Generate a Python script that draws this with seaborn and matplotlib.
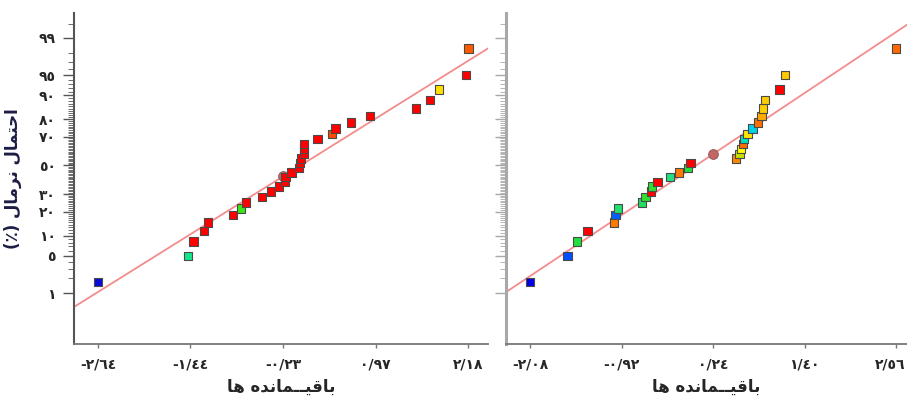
import numpy as np
import pandas as pd
import matplotlib
matplotlib.use("Agg")
import matplotlib.pyplot as plt
import matplotlib.transforms as mtransforms
import seaborn as sns
from statistics import NormalDist

# residuals (sorted)
left_resid = [-2.64, -1.473, -1.399, -1.264, -1.213, -0.883, -0.783, -0.714, -0.506, -0.389,
              -0.285, -0.210, -0.202, -0.124, -0.024, -0.015, -0.002, 0.041, 0.041, 0.041,
              0.215, 0.401, 0.449, 0.652, 0.899, 1.498, 1.676, 1.793, 2.145, 2.18]
right_resid = [-2.08, -1.607, -1.489, -1.354, -1.021, -1.000, -0.967, -0.663, -0.616, -0.549,
               -0.531, -0.464, -0.303, -0.195, -0.081, -0.047, 0.527, 0.577, 0.595, 0.620,
               0.628, 0.678, 0.742, 0.810, 0.856, 0.877, 0.902, 1.083, 1.155, 2.56]

# fitted line (mean, sd)
left_line = (-0.006, 1.145)
right_line = (0.023, 1.045)

left_xticks = [-2.64, -1.44, -0.23, 0.97, 2.18]
right_xticks = [-2.08, -0.92, 0.24, 1.40, 2.56]
prob_ticks = [1, 5, 10, 20, 30, 50, 70, 80, 90, 95, 99]

# point colours
R = "#ff0000"
left_colors = ["#0a0ad8", "#14e68c", R, R, R, R, "#3ce614", R, R, R,
               R, R, R, R, R, R, R, R, R, R,
               R, "#ff4a00", R, R, R, R, R, "#ffe100", R, "#ff5a00"]
right_colors = ["#0000e6", "#0050ff", "#20e040", R, "#ff7a00", "#0060ff", "#20e070", "#20e060", "#30e030", R,
                "#30e030", R, "#20e080", "#ff7a00", "#20e040", R, "#ff8800", "#c8e000", "#ffff00", "#ff6a00",
                "#00e0c0", "#ffe600", "#00d0e8", "#ff7000", "#ffaa00", "#ffd000", "#ffcc00", R, "#ffc800", "#ff6a00"]

AR_DIGITS = str.maketrans("0123456789.", "٠١٢٣٤٥٦٧٨٩/")


def ar(s):
    return s.translate(AR_DIGITS)


# shaped Persian text (visual order, presentation forms)
xlabel_txt = "\uFE8E\uFEEB \uFEE9\uFEAA\uFEE7\uFE8E\uFEE4\u0640\u0640\uFEF4\uFED7\uFE8E\uFE91"
ylabel_txt = "(\u066A) \uFEDD\uFE8E\uFEE3\uFEAE\uFEE7 \uFEDD\uFE8E\uFEE4\uFE98\uFEA3\uFE8D"

nd = NormalDist()
ppf = np.vectorize(nd.inv_cdf, otypes=[float])
cdf = np.vectorize(nd.cdf, otypes=[float])


def fwd(p):
    p = np.clip(np.asarray(p, dtype=float) / 100.0, 1e-9, 1 - 1e-9)
    return ppf(p)


def inv(z):
    return cdf(np.asarray(z, dtype=float)) * 100.0


sns.set_style("white")
plt.rcParams["font.family"] = ["DejaVu Sans"]
plt.rcParams["font.weight"] = "bold"

fig = plt.figure(figsize=(9.07, 3.99), dpi=100)
ax1 = fig.add_axes([0.0816, 0.138, 0.4565, 0.830])
ax2 = fig.add_axes([0.5579, 0.138, 0.4421, 0.830])

minor_probs = [p for p in list(range(2, 99)) + [99.5] if p not in prob_ticks]
ylim = (inv(-3.25), inv(2.78))

panels = [
    (ax1, left_resid, left_colors, left_line, left_xticks, (-2.956, 2.435), True),
    (ax2, right_resid, right_colors, right_line, right_xticks, (-2.387, 2.70), False),
]

for ax, resid, colors, (mu, sd), xt, xlim, show_y in panels:
    n = len(resid)
    df = pd.DataFrame({"resid": resid, "prob": (np.arange(1, n + 1) - 0.5) / n * 100,
                       "idx": np.arange(n)})
    ax.set_yscale("function", functions=(fwd, inv))

    xl = np.array(xlim)
    line_df = pd.DataFrame({"x": xl, "y": cdf((xl - mu) / sd) * 100})
    sns.lineplot(data=line_df, x="x", y="y", ax=ax, color="#f48c8c", lw=1.3, zorder=1)

    sns.scatterplot(data=df, x="resid", y="prob", hue="idx", palette=colors, legend=False,
                    marker="s", s=36, edgecolor="#4a4a4a", linewidth=0.8, ax=ax, zorder=3)

    xm = xt[2]
    ax.scatter([xm], [cdf((xm - mu) / sd) * 100], marker="o", s=50, color="#c46464",
               edgecolor="#8a5a5a", linewidth=0.6, zorder=2)

    ax.set_xlim(*xlim)
    ax.set_ylim(*ylim)
    ax.set_xticks(xt)
    ax.set_xticklabels([ar(f"{v:.2f}") for v in xt], fontsize=10, fontweight="bold")
    ax.set_yticks(prob_ticks)
    ax.set_yticks(minor_probs, minor=True)
    if show_y:
        ax.set_yticklabels([ar(str(v)) for v in prob_ticks], fontsize=10, fontweight="bold")
        ax.set_ylabel(ylabel_txt, fontsize=12, fontweight="bold", color="#1c1c44", labelpad=12)
        spine_col = "#555555"
    else:
        ax.set_yticklabels([])
        ax.set_ylabel("")
        spine_col = "#a8a8a8"
    ax.set_xlabel(xlabel_txt, fontsize=12, fontweight="bold", labelpad=4)

    ax.tick_params(axis="y", which="major", length=8, width=1, color=spine_col, pad=5, left=True)
    ax.tick_params(axis="y", which="minor", length=4, width=0.6, color=spine_col, left=True)
    ax.tick_params(axis="x", which="major", length=3, width=1, color="#777777", pad=7, bottom=True)
    ax.tick_params(axis="x", which="minor", bottom=False)

    sns.despine(ax=ax)
    ax.spines["left"].set_color(spine_col)
    ax.spines["left"].set_linewidth(1.5 if show_y else 2.2)
    ax.spines["bottom"].set_color("#777777")
    ax.spines["bottom"].set_linewidth(1.3)

# keep the last right-hand tick label inside the figure
last = ax2.get_xticklabels()[-1]
last.set_transform(last.get_transform() + mtransforms.ScaledTranslation(-6 / 100, 0, fig.dpi_scale_trans))

fig.savefig("out.png", dpi=100)
